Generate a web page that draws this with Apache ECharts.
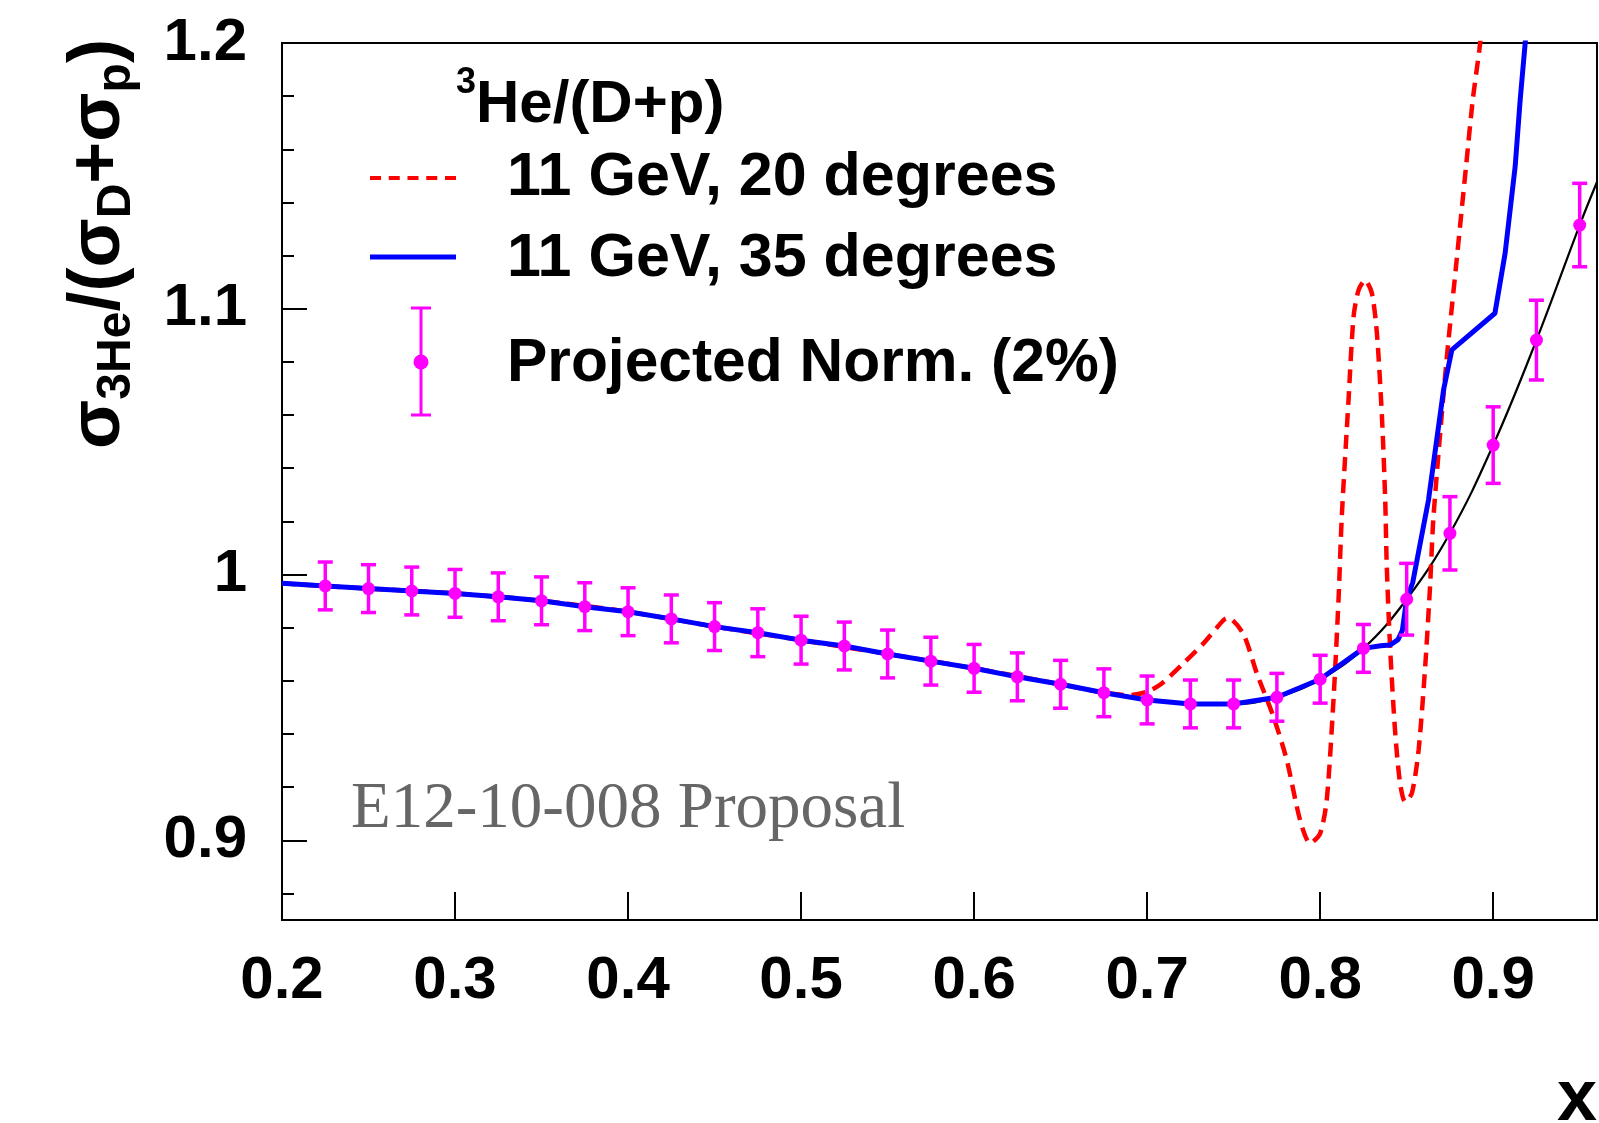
<!DOCTYPE html>
<html><head><meta charset="utf-8">
<script src="https://cdn.jsdelivr.net/npm/echarts@6/dist/echarts.min.js"></script>
<style>html,body{margin:0;padding:0;background:#fff}#c{width:1599px;height:1123px}</style>
</head><body><div id="c"></div>
<script>
// ---- tick positions ----
const xTicks = [0.2, 0.3, 0.4, 0.5, 0.6, 0.7, 0.8, 0.9];
const yMajorTicks = [0.9, 1.0, 1.1, 1.2];
const yMinorTicks = [0.88, 0.92, 0.94, 0.96, 0.98, 1.02, 1.04, 1.06, 1.08, 1.12, 1.14, 1.16, 1.18];

// ---- projected points (magenta) ----
const pointX = [0.225,0.25,0.275,0.3,0.325,0.35,0.375,0.4,0.425,0.45,0.475,0.5,0.525,0.55,0.575,0.6,0.625,0.65,0.675,0.7,0.725,0.75,0.775,0.8,0.825,0.85,0.875,0.9,0.925,0.95];
const pointY = [0.9957,0.9947,0.9938,0.9929,0.9916,0.9901,0.9879,0.9860,0.9833,0.9804,0.9781,0.9753,0.9731,0.9701,0.9674,0.9647,0.9615,0.9587,0.9555,0.9528,0.9513,0.9513,0.9538,0.9606,0.9722,0.9907,1.0155,1.0487,1.0882,1.1315];
const pointErr = [0.009,0.009,0.009,0.009,0.009,0.009,0.009,0.009,0.009,0.009,0.009,0.009,0.009,0.009,0.009,0.009,0.009,0.009,0.009,0.009,0.009,0.009,0.009,0.009,0.009,0.0135,0.0138,0.0144,0.0150,0.0157];

// ---- 11 GeV, 35 degrees (blue) ----
const curve35X = [0.2,0.225,0.25,0.275,0.3,0.325,0.35,0.375,0.4,0.425,0.45,0.475,0.5,0.525,0.55,0.575,0.6,0.625,0.65,0.675,0.7,0.725,0.75,0.775,0.8,0.825,0.835,0.8405,0.845,0.8475,0.85,0.8535,0.8626,0.8713,0.8761,0.901,0.9069,0.9127,0.9156,0.9185,0.921];
const curve35Y = [0.9967,0.9957,0.9947,0.9938,0.9929,0.9916,0.9901,0.9879,0.9860,0.9833,0.9804,0.9781,0.9753,0.9731,0.9701,0.9674,0.9647,0.9615,0.9587,0.9555,0.9528,0.9513,0.9513,0.9538,0.9606,0.9722,0.9732,0.9735,0.9755,0.9790,0.9907,0.9970,1.0280,1.0694,1.0845,1.0983,1.1209,1.1535,1.1786,1.2000,1.2200];

// ---- 11 GeV, 20 degrees (red dashed) ----
const curve20X = [0.2,0.25,0.3,0.35,0.4,0.45,0.5,0.55,0.6,0.65,0.675,0.69,0.7,0.7085,0.721,0.7326,0.7442,0.747,0.7557,0.7634,0.773,0.7807,0.7884,0.7942,0.8,0.8038,0.8077,0.8106,0.8125,0.8164,0.8193,0.8222,0.826,0.8299,0.8328,0.8357,0.8376,0.8385,0.8405,0.8434,0.8462,0.8491,0.853,0.8569,0.8607,0.8636,0.8655,0.8727,0.8785,0.8843,0.8882,0.892,0.895];
const curve20Y = [0.9967,0.9947,0.9929,0.9901,0.9860,0.9804,0.9753,0.9701,0.9647,0.9587,0.9555,0.9546,0.9559,0.9590,0.9666,0.9741,0.9829,0.9837,0.9775,0.9628,0.9465,0.9302,0.9076,0.8988,0.9026,0.9151,0.9528,0.9904,1.0218,1.0657,1.0970,1.1070,1.1108,1.1058,1.0908,1.0594,1.0280,1.0030,0.9716,0.9402,0.9214,0.9145,0.9177,0.9340,0.9653,0.9967,1.0218,1.0782,1.1158,1.1535,1.1786,1.1974,1.2150];

// ---- thin black fit ----
const fitX = [0.2,0.225,0.25,0.275,0.3,0.325,0.35,0.375,0.4,0.425,0.45,0.475,0.5,0.525,0.55,0.575,0.6,0.625,0.65,0.675,0.7,0.725,0.75,0.775,0.8,0.825,0.85,0.875,0.9,0.925,0.95,0.96];
const fitY = [0.9967,0.9957,0.9947,0.9938,0.9929,0.9916,0.9901,0.9879,0.9860,0.9833,0.9804,0.9781,0.9753,0.9731,0.9701,0.9674,0.9647,0.9615,0.9587,0.9555,0.9528,0.9513,0.9513,0.9538,0.9606,0.9722,0.9907,1.0155,1.0487,1.0882,1.1315,1.1477];

const zip = (a, b) => a.map((v, i) => [v, b[i]]);
const FONT = 'Liberation Sans';
const MAG = '#ff00ff';

const chart = echarts.init(document.getElementById('c'), null, {renderer: 'canvas'});

const labelStyle = {fontFamily: FONT, fontWeight: 'bold', fontSize: 60, color: '#000'};
const fmt = v => String(Math.round(v * 10) / 10);

const option = {
  animation: false,
  backgroundColor: '#fff',
  textStyle: {fontFamily: FONT},
  grid: {left: 282, top: 43, right: 2, bottom: 203, show: true, borderColor: '#000', borderWidth: 2, backgroundColor: 'transparent'},
  xAxis: {
    type: 'value', min: 0.2, max: 0.96, interval: 0.1,
    axisLine: {show: true, onZero: false, lineStyle: {color: '#000', width: 2}},
    axisTick: {show: true, inside: true, length: 28, customValues: xTicks, lineStyle: {color: '#000', width: 2}},
    axisLabel: Object.assign({margin: 31, customValues: xTicks, formatter: fmt}, labelStyle),
    splitLine: {show: false}
  },
  yAxis: [
    {
      type: 'value', min: 0.87, max: 1.2, position: 'left',
      axisLine: {show: true, onZero: false, lineStyle: {color: '#000', width: 2}},
      axisTick: {show: true, inside: true, length: 25, customValues: yMajorTicks, lineStyle: {color: '#000', width: 2}},
      axisLabel: Object.assign({margin: 35, customValues: yMajorTicks, formatter: fmt}, labelStyle),
      splitLine: {show: false}
    },
    {
      type: 'value', min: 0.87, max: 1.2, position: 'left', offset: 0,
      axisLine: {show: false},
      axisTick: {show: true, inside: true, length: 12, customValues: yMinorTicks, lineStyle: {color: '#000', width: 2}},
      axisLabel: {show: false},
      splitLine: {show: false}
    }
  ],
  series: [
    {
      name: 'fit', type: 'line', data: zip(fitX, fitY), showSymbol: false, symbol: 'none',
      smooth: 0.4, lineStyle: {color: '#000', width: 2.2}, z: 2, silent: true
    },
    {
      name: '11 GeV, 20 degrees', type: 'line', data: zip(curve20X, curve20Y), showSymbol: false, symbol: 'none',
      smooth: 0.25, lineStyle: {color: '#ff0000', width: 4.5, type: [14, 8]}, z: 3, silent: true
    },
    {
      name: '11 GeV, 35 degrees', type: 'line', data: zip(curve35X, curve35Y), showSymbol: false, symbol: 'none',
      smooth: false, lineStyle: {color: '#0000ff', width: 5}, z: 4, silent: true
    },
    {
      name: 'Projected Norm. (2%)', type: 'custom', z: 5, silent: true,
      encode: {x: 0, y: 1},
      data: pointX.map((x, i) => [x, pointY[i], pointErr[i]]),
      renderItem: function (params, api) {
        const x = api.value(0), y = api.value(1), e = api.value(2);
        const c = api.coord([x, y]);
        const hi = api.coord([x, y + e]);
        const lo = api.coord([x, y - e]);
        const w = 7.5;
        const st = {stroke: MAG, lineWidth: 3.5};
        return {
          type: 'group',
          children: [
            {type: 'line', shape: {x1: c[0], y1: hi[1], x2: c[0], y2: lo[1]}, style: st},
            {type: 'line', shape: {x1: c[0] - w, y1: hi[1], x2: c[0] + w, y2: hi[1]}, style: st},
            {type: 'line', shape: {x1: c[0] - w, y1: lo[1], x2: c[0] + w, y2: lo[1]}, style: st},
            {type: 'circle', shape: {cx: c[0], cy: c[1], r: 6.5}, style: {fill: MAG}}
          ]
        };
      }
    }
  ],
  graphic: [
    // y-axis title
    {
      type: 'text', x: 99, y: 244, rotation: Math.PI / 2,
      style: {
        text: '{m|σ}{s|3He}{m|/(σ}{s|D}{m|+σ}{s|p}{m|)}',
        align: 'center', verticalAlign: 'middle',
        rich: {
          m: {fontFamily: FONT, fontWeight: 'bold', fontSize: 72, lineHeight: 72, verticalAlign: 'top', fill: '#000'},
          s: {fontFamily: FONT, fontWeight: 'bold', fontSize: 48, lineHeight: 48, verticalAlign: 'top', padding: [30, 0, 0, 0], fill: '#000'}
        }
      }
    },
    // x-axis title
    {
      type: 'text', x: 1597, y: 1136,
      style: {text: 'x', align: 'right', verticalAlign: 'bottom', fontFamily: FONT, fontWeight: 'bold', fontSize: 72, fill: '#000'}
    },
    // legend header
    {
      type: 'text', x: 456, y: 95,
      style: {
        text: '{sup|3}{m|He/(D+p)}', align: 'left', verticalAlign: 'middle',
        rich: {
          sup: {fontFamily: FONT, fontWeight: 'bold', fontSize: 36, lineHeight: 36, verticalAlign: 'top', fill: '#000'},
          m: {fontFamily: FONT, fontWeight: 'bold', fontSize: 60, lineHeight: 60, verticalAlign: 'top', padding: [10, 0, 0, 0], fill: '#000'}
        }
      }
    },
    // legend entries
    {type: 'line', shape: {x1: 370, y1: 178, x2: 456, y2: 178}, style: {stroke: '#ff0000', lineWidth: 4, lineDash: [11, 7.75]}},
    {type: 'text', x: 507, y: 178, style: {text: '11 GeV, 20 degrees', align: 'left', verticalAlign: 'middle', fontFamily: FONT, fontWeight: 'bold', fontSize: 61, fill: '#000'}},
    {type: 'line', shape: {x1: 370, y1: 257, x2: 456, y2: 257}, style: {stroke: '#0000ff', lineWidth: 5}},
    {type: 'text', x: 507, y: 259, style: {text: '11 GeV, 35 degrees', align: 'left', verticalAlign: 'middle', fontFamily: FONT, fontWeight: 'bold', fontSize: 61, fill: '#000'}},
    {type: 'line', shape: {x1: 421, y1: 308, x2: 421, y2: 415}, style: {stroke: MAG, lineWidth: 3}},
    {type: 'line', shape: {x1: 411, y1: 308, x2: 431, y2: 308}, style: {stroke: MAG, lineWidth: 3}},
    {type: 'line', shape: {x1: 411, y1: 415, x2: 431, y2: 415}, style: {stroke: MAG, lineWidth: 3}},
    {type: 'circle', shape: {cx: 421, cy: 362, r: 7.5}, style: {fill: MAG}},
    {type: 'text', x: 507, y: 364, style: {text: 'Projected Norm. (2%)', align: 'left', verticalAlign: 'middle', fontFamily: FONT, fontWeight: 'bold', fontSize: 60.5, fill: '#000'}},
    // watermark
    {type: 'text', x: 351, y: 842, style: {text: 'E12-10-008 Proposal', align: 'left', verticalAlign: 'bottom', fontFamily: 'Liberation Serif', fontSize: 65, fill: '#666666'}}
  ]
};
chart.setOption(option);
</script>
</body></html>
